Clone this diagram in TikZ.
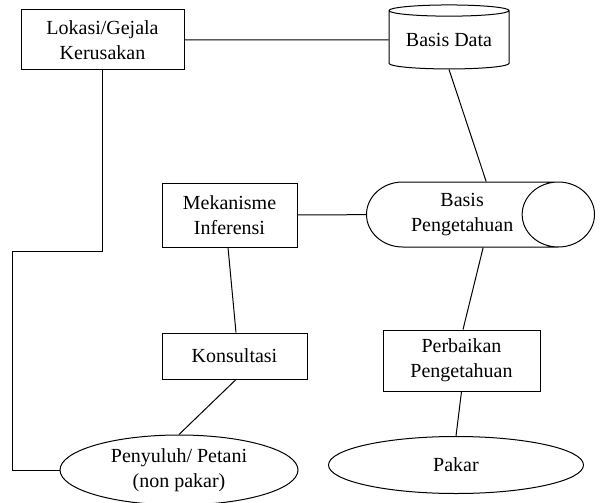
\documentclass[tikz,border=0pt]{standalone}
\usepackage{fontspec}
\setmainfont{Liberation Serif}
\usetikzlibrary{shapes.geometric}
\tikzset{
 kotak/.style={draw,align=center,inner sep=0pt},
 elips/.style={draw,ellipse,align=center,inner sep=0pt},
 tabung/.style={draw,cylinder,align=center,inner sep=0pt},
}
\begin{document}
\begin{tikzpicture}[x=1pt,y=-1pt,line width=1pt,font=\fontsize{20}{25}\selectfont]
 \useasboundingbox (0,0) rectangle (605,503);
 \node[kotak,minimum width=163,minimum height=60] (lokasi) at (102.5,40) {Lokasi/Gejala\\Kerusakan}; %kiri atas
 \node[tabung,shape border rotate=90,aspect=0.13,minimum width=120,minimum height=64] (data) at (449,40) {Basis Data}; %basis data
 \node[tabung,aspect=1.7,minimum width=65,minimum height=228,anchor=west] (basis) at (366,214.5) {Basis\\Pengetahuan};
 \node[kotak,minimum width=135,minimum height=64] (mesin) at (229.5,215) {Mekanisme\\Inferensi};
 \node[kotak,minimum width=145,minimum height=46] (konsul) at (234.5,356) {Konsultasi};
 \node[kotak,minimum width=157,minimum height=61] (perbaikan) at (461.5,360.5) {Perbaikan\\Pengetahuan};
 \node[elips,minimum width=238,minimum height=70] (petani) at (179,470) {Penyuluh/ Petani\\(non pakar)}; %pengguna
 \node[elips,minimum width=255,minimum height=57] (pakar) at (456,465) {Pakar};
 \coordinate (belok) at (12,251);

 \draw (lokasi) -- (data);
 \draw (data.270) -- ([xshift=24pt]basis.north);
 \draw (mesin) -- (basis);
 \draw ([xshift=-1.5pt]mesin.south) -- ([xshift=1.5pt]konsul.north);
 \draw ([xshift=1.5pt]konsul.south) -- (petani.north);
 \draw ([xshift=21pt]basis.south) -- ([xshift=1.5pt]perbaikan.north);
 \draw (perbaikan.south) -- (pakar.north);
 \draw (lokasi.south) |- (belok) |- (petani.west); %jalur kiri
\end{tikzpicture}
\end{document}
